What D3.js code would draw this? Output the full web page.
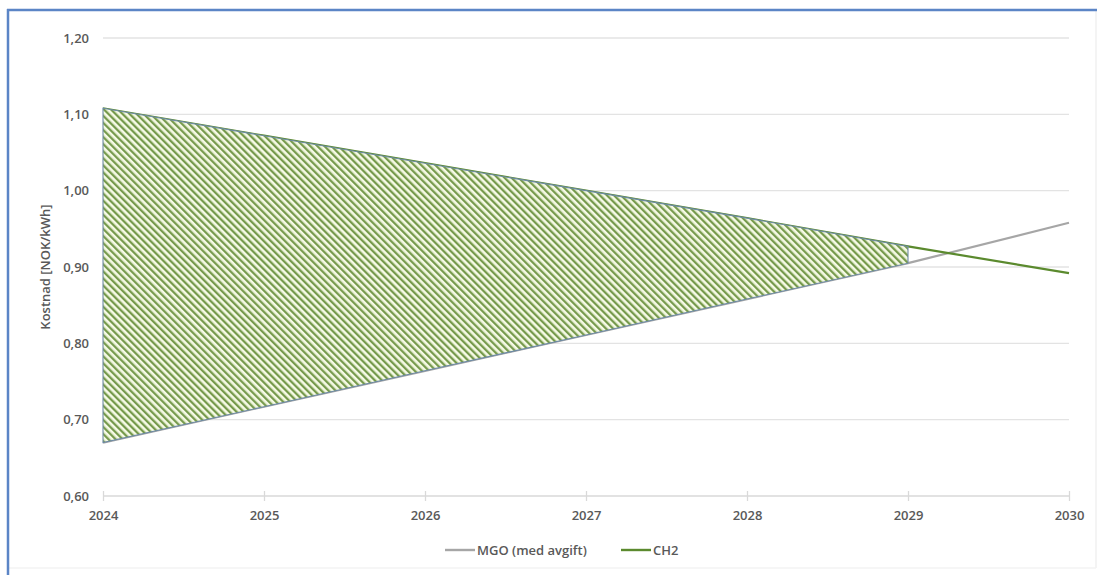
<!DOCTYPE html>
<html>
<head>
<meta charset="utf-8">
<script src="https://cdn.jsdelivr.net/npm/d3@7"></script>
<style>
  html, body { margin: 0; padding: 0; background: #ffffff; }
  svg { display: block; }
  text { font-family: "Open Sans", "Liberation Sans", sans-serif; fill: #595959; }
</style>
</head>
<body>
<svg id="chart" width="1099" height="575"></svg>
<script>
// Years on the x axis
const years = [2024, 2025, 2026, 2027, 2028, 2029, 2030];
// Cost per kWh, NOK
const mgoValues = [0.670, 0.717, 0.764, 0.811, 0.858, 0.905, 0.958];
const ch2Values = [1.108, 1.072, 1.036, 1.000, 0.964, 0.927, 0.892];
// Y axis ticks
const yTicks = [0.60, 0.70, 0.80, 0.90, 1.00, 1.10, 1.20];
// Last year of the shaded gap between the two series
const gapEndYear = 2029;
const seriesNames = ["MGO (med avgift)", "CH2"];

const W = 1099, H = 575;
const margin = { left: 103, right: 30, top: 38, bottom: 79 };
const svg = d3.select("#chart");

// Frame
svg.append("rect").attr("x", 0).attr("y", 0).attr("width", W).attr("height", H).attr("fill", "#ffffff");
svg.append("line").attr("x1", 1096).attr("x2", 1096).attr("y1", 10).attr("y2", 568).attr("stroke", "#f0f0f0").attr("stroke-width", 1.5);
svg.append("line").attr("x1", 8).attr("x2", 1096).attr("y1", 568).attr("y2", 568).attr("stroke", "#f3f3f3").attr("stroke-width", 1.5);
svg.append("line").attr("x1", 7).attr("x2", 1097).attr("y1", 10).attr("y2", 10).attr("stroke", "#5b85c6").attr("stroke-width", 2.5);
svg.append("line").attr("x1", 8).attr("x2", 8).attr("y1", 9).attr("y2", 575).attr("stroke", "#5b85c6").attr("stroke-width", 2.5);

const x = d3.scaleLinear().domain([2024, 2030]).range([margin.left, W - margin.right]);
const y = d3.scaleLinear().domain([0.60, 1.20]).range([H - margin.bottom, margin.top]);

// Hatch pattern (stripes running top-left to bottom-right)
const defs = svg.append("defs");
const pat = defs.append("pattern")
  .attr("id", "hatch").attr("patternUnits", "userSpaceOnUse")
  .attr("width", 5).attr("height", 5)
  .attr("patternTransform", "rotate(-45)");
pat.append("rect").attr("width", 5).attr("height", 5).attr("fill", "#f6fae6");
pat.append("rect").attr("width", 2.3).attr("height", 5).attr("fill", "#769a4c");

// Gridlines
const grid = svg.append("g");
grid.selectAll("line").data(yTicks.slice(1)).join("line")
  .attr("x1", x(2024)).attr("x2", x(2030))
  .attr("y1", d => y(d)).attr("y2", d => y(d))
  .attr("stroke", "#e3e3e3").attr("stroke-width", 1.3);

// Y axis labels
const fmt = d => d.toFixed(2).replace(".", ",");
const yAxis = d3.axisLeft(y).tickValues(yTicks).tickFormat(fmt).tickSize(0).tickPadding(14);
const gy = svg.append("g").attr("transform", `translate(${margin.left},0)`).call(yAxis);
gy.select(".domain").remove();
gy.selectAll("text").attr("font-size", 13).attr("font-weight", 600).attr("fill", "#595959");

// X axis
const xAxis = d3.axisBottom(x).tickValues(years).tickFormat(d3.format("d")).tickSize(5).tickPadding(10);
const gx = svg.append("g").attr("transform", `translate(0,${y(0.60)})`).call(xAxis);
gx.select(".domain").attr("stroke", "#d9d9d9").attr("stroke-width", 1.3).attr("d", `M${x(2024)},0H${x(2030)}`);
gx.selectAll(".tick line").attr("stroke", "#d9d9d9").attr("stroke-width", 1.3).attr("y1", -5).attr("y2", 5);
gx.selectAll("text").attr("font-size", 13).attr("font-weight", 600).attr("fill", "#595959");

// Series lines
const data = years.map((yr, i) => ({ yr, mgo: mgoValues[i], ch2: ch2Values[i] }));
const lineMgo = d3.line().x(d => x(d.yr)).y(d => y(d.mgo));
const lineCh2 = d3.line().x(d => x(d.yr)).y(d => y(d.ch2));
svg.append("path").datum(data).attr("d", lineMgo).attr("fill", "none").attr("stroke", "#a6a6a6").attr("stroke-width", 2.2);
svg.append("path").datum(data).attr("d", lineCh2).attr("fill", "none").attr("stroke", "#5b8a2e").attr("stroke-width", 2.2);

// Shaded gap between the series
const gapData = data.filter(d => d.yr <= gapEndYear);
const area = d3.area().x(d => x(d.yr)).y0(d => y(d.mgo)).y1(d => y(d.ch2));
svg.append("path").datum(gapData).attr("d", area)
  .attr("fill", "url(#hatch)").attr("stroke", "#6d8aa6").attr("stroke-width", 1.1);

// Y axis title
svg.append("text")
  .attr("transform", `translate(50,${(y(0.6) + y(1.2)) / 2}) rotate(-90)`)
  .attr("text-anchor", "middle").attr("font-size", 13).attr("font-weight", 600)
  .text("Kostnad [NOK/kWh]");

// Legend
const legend = svg.append("g").attr("transform", "translate(445,550)");
const legendItems = [
  { name: seriesNames[0], color: "#a6a6a6", dx: 0 },
  { name: seriesNames[1], color: "#5b8a2e", dx: 176 }
];
legendItems.forEach(it => {
  const g = legend.append("g").attr("transform", `translate(${it.dx},0)`);
  g.append("line").attr("x1", 0).attr("x2", 30).attr("y1", 0).attr("y2", 0).attr("stroke", it.color).attr("stroke-width", 2.4);
  g.append("text").attr("x", 32).attr("y", 4.5).attr("font-size", 13).attr("font-weight", 600).text(it.name);
});
</script>
</body>
</html>
